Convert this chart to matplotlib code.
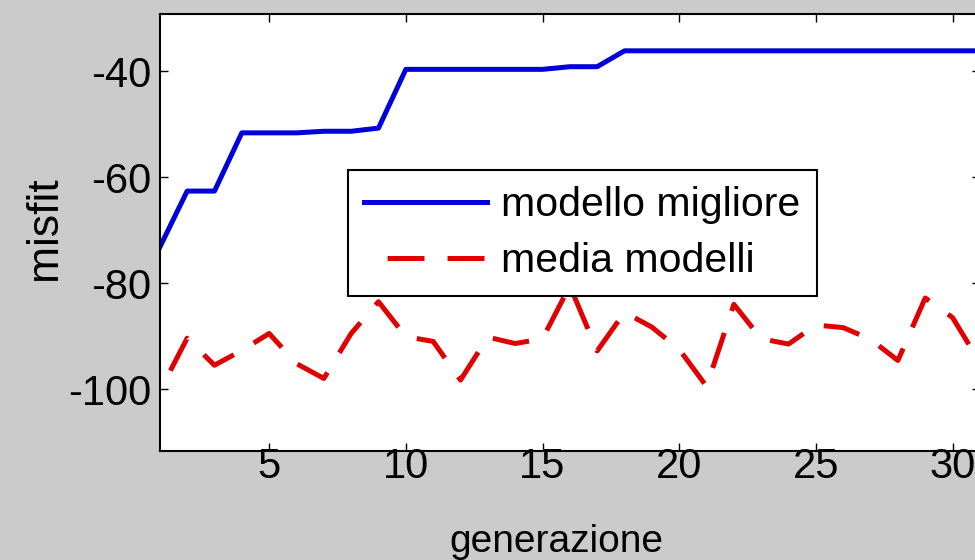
import matplotlib
matplotlib.use('Agg')
from matplotlib import pyplot as plt

# Data.
generations = list(range(1, 32))
best_model = [-73.2, -62.6, -62.6, -51.6, -51.6, -51.6, -51.3, -51.3, -50.7,
              -39.6, -39.6, -39.6, -39.6, -39.6, -39.6, -39.1, -39.1,
              -36.1, -36.1, -36.1, -36.1, -36.1, -36.1, -36.1, -36.1,
              -36.1, -36.1, -36.1, -36.1, -36.1, -36.1]
mean_models = [-100.4, -90.4, -95.5, -92.7, -89.5, -95.2, -98.0, -89.5, -83.5,
               -90.1, -91.0, -98.3, -90.2, -91.4, -90.5, -80.5, -92.8, -85.5,
               -88.3, -92.5, -99.5, -84.0, -90.5, -91.5, -87.9, -88.4, -90.6,
               -94.6, -82.8, -86.5, -95.0]
x_ticks = [5, 10, 15, 20, 25, 30]
y_ticks = [-100, -80, -60, -40]

plt.rcParams['font.family'] = ['Liberation Sans', 'DejaVu Sans']
plt.rcParams['lines.scale_dashes'] = False
plt.rcParams['axes.unicode_minus'] = False

fig = plt.figure(figsize=(9.75, 5.6), dpi=100, facecolor='#cbcbcb')
ax = fig.add_axes([159.8 / 975, 1 - 450.7 / 560,
                   (979.9 - 159.8) / 975, (450.7 - 14.3) / 560])
ax.set_facecolor('white')

ax.plot(generations, best_model, color='#0000d8', linewidth=3.6,
        label='modello migliore')
ax.plot(generations, mean_models, color='#e00000', linewidth=3.6,
        linestyle=(26.6, (26.6, 16.6)), label='media modelli')

# Format plot.
ax.set_xlim(1, 31)
ax.set_ylim(-111.65, -29.2)
ax.set_xticks(x_ticks)
ax.set_yticks(y_ticks)
ax.tick_params(axis='both', which='major', labelsize=30, direction='in',
               length=5.5, width=1, top=True, right=True)
ax.tick_params(axis='x', pad=-2.5)
ax.tick_params(axis='y', pad=6)
for spine in ax.spines.values():
    spine.set_linewidth(1.5)

ax.set_xlabel('generazione', fontsize=28)
ax.xaxis.set_label_coords(0.483, -0.21)
ax.xaxis.label.set_va('center')
ax.set_ylabel('misfit', fontsize=32)
ax.yaxis.set_label_coords(-0.14, 0.51)
ax.yaxis.label.set_va('center')

leg = ax.legend(loc='upper left', bbox_to_anchor=(348 / 975, 1 - 170 / 560),
                bbox_transform=fig.transFigure, fontsize=29.5, frameon=True,
                fancybox=False, framealpha=1, edgecolor='black',
                handlelength=3.0, handletextpad=0.34, borderpad=0.4,
                labelspacing=0.43, borderaxespad=0)
leg.get_frame().set_linewidth(1.5)

fig.savefig('out.png', dpi=100, facecolor=fig.get_facecolor())
